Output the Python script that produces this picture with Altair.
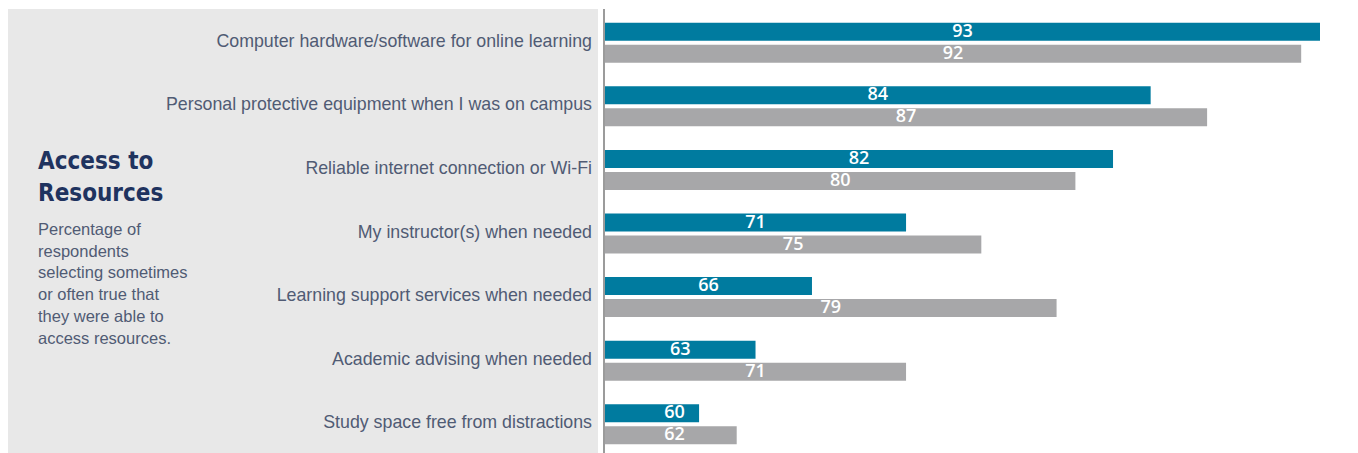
import altair as alt
import pandas as pd

categories = [
    "Computer hardware/software for online learning",
    "Personal protective equipment when I was on campus",
    "Reliable internet connection or Wi-Fi",
    "My instructor(s) when needed",
    "Learning support services when needed",
    "Academic advising when needed",
    "Study space free from distractions",
]
series_a = [93, 84, 82, 71, 66, 63, 60]   # teal
series_b = [92, 87, 80, 75, 79, 71, 62]   # gray

title_lines = ["Access to", "Resources"]
subtitle_lines = [
    "Percentage of",
    "respondents",
    "selecting sometimes",
    "or often true that",
    "they were able to",
    "access resources.",
]

TEAL = "#007B9F"
GRAY = "#A7A7A9"
PANEL = "#E8E8E8"
NAVY = "#1F335F"
LABEL = "#505B74"
FONT = "Liberation Sans"
NARROW = "DejaVu Sans Condensed, Liberation Sans Narrow, Liberation Sans, sans-serif"

df = pd.DataFrame({"cat": categories, "a": series_a, "b": series_b})
one = pd.DataFrame({"k": [0]})

H = 444
yscale = alt.Scale(domain=categories, range=[2, 447], paddingInner=0, paddingOuter=0)
xscale = alt.Scale(domain=[55, 93], nice=False, zero=False, clamp=False)

base = alt.Chart(df)
single = alt.Chart(one)

bars_a = base.mark_bar(color=TEAL, height=18, yOffset=-11).encode(
    y=alt.Y("cat:N", scale=yscale, axis=None, sort=categories),
    x=alt.X("a:Q", scale=xscale, axis=None),
    x2=alt.datum(55),
)
bars_b = base.mark_bar(color=GRAY, height=18, yOffset=11).encode(
    y=alt.Y("cat:N", scale=yscale, axis=None, sort=categories),
    x=alt.X("b:Q", scale=xscale, axis=None),
    x2=alt.datum(55),
)
lab_a = base.transform_calculate(
    pos="max((55 + datum.a) / 2, 58.7)"
).mark_text(color="white", font="Open Sans", fontWeight=600, fontSize=18,
            baseline="middle", align="center", yOffset=-11).encode(
    y=alt.Y("cat:N", scale=yscale, axis=None, sort=categories),
    x=alt.X("pos:Q", scale=xscale, axis=None),
    text=alt.Text("a:Q"),
)
lab_b = base.transform_calculate(
    pos="max((55 + datum.b) / 2, 58.7)"
).mark_text(color="white", font="Open Sans", fontWeight=600, fontSize=18,
            baseline="middle", align="center", yOffset=11).encode(
    y=alt.Y("cat:N", scale=yscale, axis=None, sort=categories),
    x=alt.X("pos:Q", scale=xscale, axis=None),
    text=alt.Text("b:Q"),
)
vline = single.mark_rule(color="#7A7A7A", strokeWidth=1.5).encode(
    x=alt.value(-1), y=alt.value(0), y2=alt.value(H + 1)
)

right = alt.layer(vline, bars_a, bars_b, lab_a, lab_b).properties(
    width=715, height=H, view=alt.ViewBackground(stroke=None, fill="white")
)

cat_labels = base.mark_text(font=FONT, fontSize=17.8, color=LABEL,
                            align="right", baseline="middle", dy=-1).encode(
    y=alt.Y("cat:N", scale=yscale, axis=None, sort=categories),
    x=alt.value(584),
    text="cat:N",
)
title_txt = single.mark_text(font=NARROW, fontSize=24, fontWeight="bold", color=NAVY,
                             align="left", baseline="middle", lineHeight=32).encode(
    x=alt.value(30), y=alt.value(153), text=alt.value(title_lines)
)
sub_txt = single.mark_text(font=FONT, fontSize=16.5, color=LABEL,
                           align="left", baseline="middle", lineHeight=21.7).encode(
    x=alt.value(30), y=alt.value(221), text=alt.value(subtitle_lines)
)

left = alt.layer(cat_labels, title_txt, sub_txt).properties(
    width=590, height=H, view=alt.ViewBackground(stroke=None, fill=PANEL)
)

chart = alt.hconcat(left, right, spacing=7, bounds="flush").properties(
    padding=0
).configure_view(stroke=None)

chart.save("out.html", embed_options={"renderer": "svg", "actions": False})
